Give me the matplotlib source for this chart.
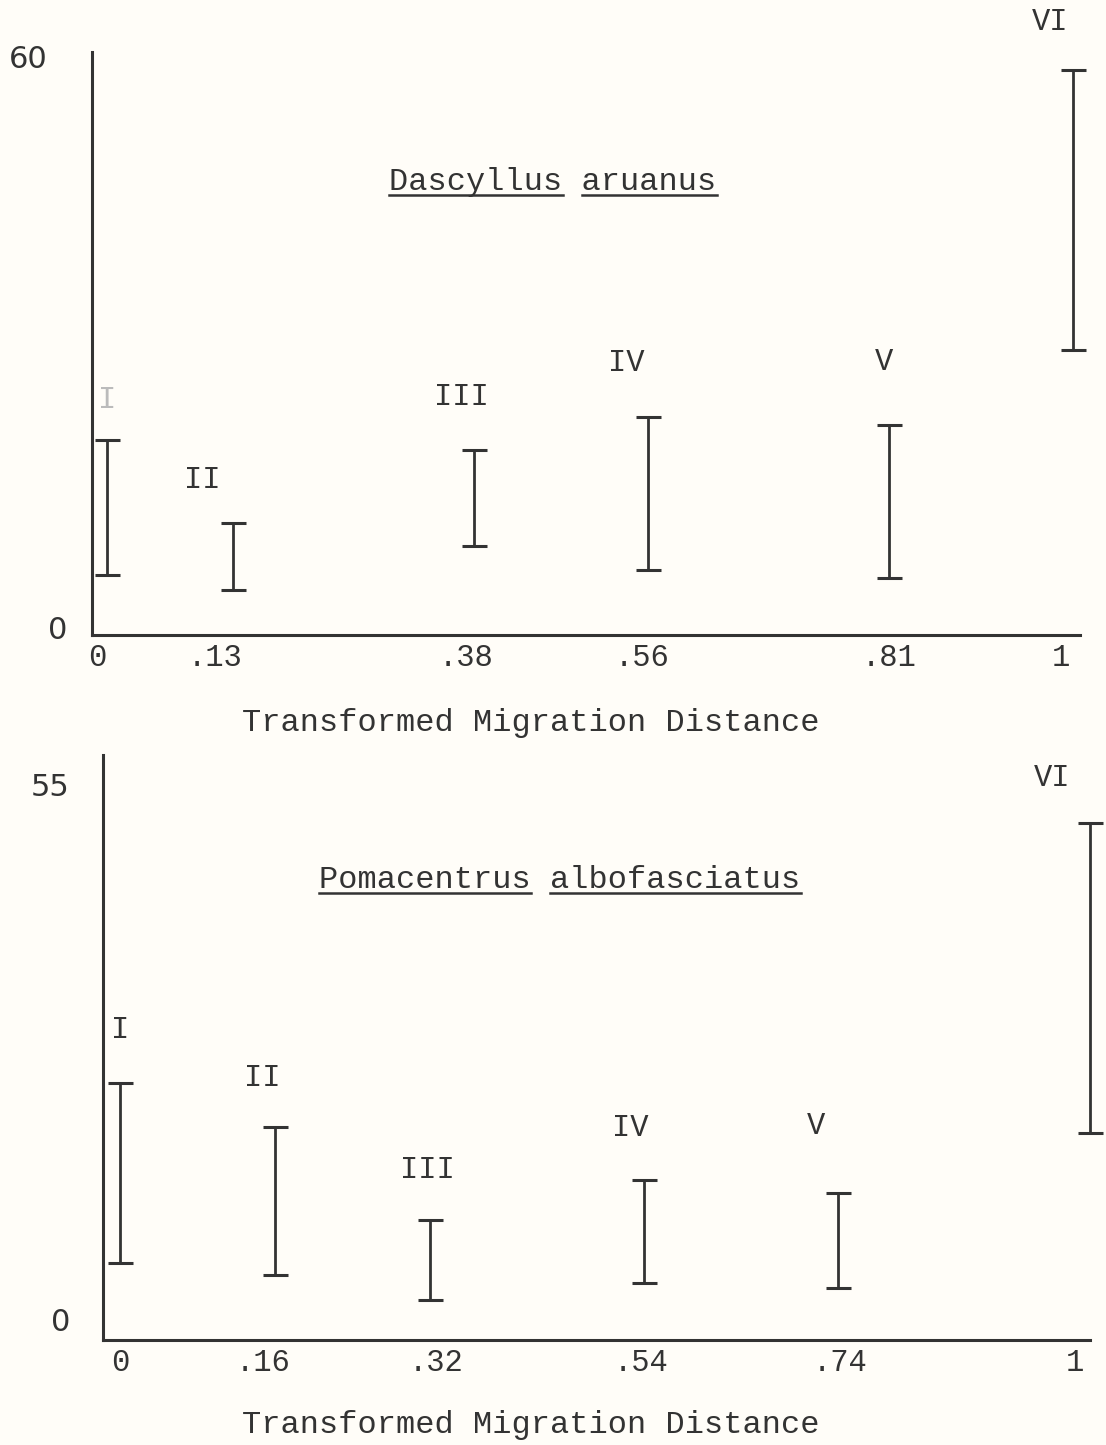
import matplotlib
matplotlib.use("Agg")
import matplotlib.pyplot as plt
import matplotlib.transforms as mtransforms
import numpy as np

# ---------------- data ----------------
groups = ["I", "II", "III", "IV", "V", "VI"]

top_x = [0.0, 0.13, 0.38, 0.56, 0.81, 1.0]
top_x_labels = ["0", ".13", ".38", ".56", ".81", "1"]
top_low = [5.8, 4.2, 8.9, 6.3, 5.5, 29.5]
top_high = [20.0, 11.3, 18.9, 22.4, 21.6, 58.9]
top_title = ["Dascyllus", "aruanus"]
top_ylabels = [0, 60]

bot_x = [0.0, 0.16, 0.32, 0.54, 0.74, 1.0]
bot_x_labels = ["0", ".16", ".32", ".54", ".74", "1"]
bot_low = [6.1, 4.8, 2.3, 4.0, 3.5, 19.4]
bot_high = [24.6, 20.0, 10.5, 14.6, 13.3, 51.3]
bot_title = ["Pomacentrus", "albofasciatus"]
bot_ylabels = [0, 55]

xlabel = "Transformed Migration Distance"

# ---------------- style ----------------
BG = "#fffdf8"
INK = "#333333"
MONO = "Liberation Mono"

fig = plt.figure(figsize=(11.06, 14.45), dpi=100, facecolor=BG)

def make_panel(rect, xs, xlabels, lo, hi, ylabels, ylim, xlim, title,
               title_xy, lab_xy, ylab_dx, xlabel_y, xlab_dx, faint_first=False):
    ax = fig.add_axes(rect)
    ax.set_facecolor(BG)
    ax.set_xlim(*xlim)
    ax.set_ylim(*ylim)
    for s in ["top", "right"]:
        ax.spines[s].set_visible(False)
    for s in ["left", "bottom"]:
        ax.spines[s].set_linewidth(2.2)
        ax.spines[s].set_color(INK)

    lo = np.array(lo); hi = np.array(hi)
    mid = (lo + hi) / 2
    err = (hi - lo) / 2
    ax.errorbar(xs, mid, yerr=err, fmt="none", ecolor=INK, elinewidth=2.0,
                capsize=9, capthick=2.2, clip_on=False)

    ax.set_xticks(xs)
    ax.set_xticklabels(xlabels, fontfamily=MONO, fontsize=22, color=INK)
    ax.tick_params(axis="x", length=0, pad=6)
    for lab, dx in zip(ax.get_xticklabels(), xlab_dx):
        lab.set_transform(lab.get_transform() +
                          mtransforms.ScaledTranslation(dx / 100, 0, fig.dpi_scale_trans))
    ax.set_yticks([])

    # y labels
    trans = mtransforms.blended_transform_factory(ax.transAxes, ax.transData)
    for (val, dx) in zip(ylabels, ylab_dx):
        off = mtransforms.offset_copy(trans, fig=fig, x=dx, y=0, units="dots")
        ax.text(0, val, str(val), transform=off, ha="center", va="center",
                fontsize=22, fontfamily="DejaVu Sans", color=INK)

    # group labels
    for i, (g, (lx, ly)) in enumerate(zip(groups, lab_xy)):
        c = "#bbbbbb" if (faint_first and i == 0) else INK
        ax.text(lx, ly, g, ha="center", va="center", fontfamily=MONO,
                fontsize=22, color=c, clip_on=False)

    # title with per-word underline
    full = " ".join(title)
    t = fig.text(title_xy[0], title_xy[1], full, ha="center", va="center",
                 fontfamily=MONO, fontsize=23, color=INK)
    fig.canvas.draw()
    r = fig.canvas.get_renderer()
    bb = t.get_window_extent(r)
    cw = bb.width / len(full)
    W, H = fig.bbox.width, fig.bbox.height
    pos = 0
    for w in title:
        x0 = bb.x0 + pos * cw
        x1 = x0 + len(w) * cw
        yl = bb.y0 + 2
        fig.add_artist(plt.Line2D([x0 / W, x1 / W], [yl / H, yl / H],
                                  transform=fig.transFigure, color=INK, lw=1.8))
        pos += len(w) + 1

    fig.text(0.48, xlabel_y, xlabel, ha="center", va="center",
             fontfamily=MONO, fontsize=23, color=INK)
    return ax

# top panel
make_panel([92 / 1106, 1 - 635 / 1445, (1080 - 92) / 1106, (635 - 52) / 1445],
           top_x, top_x_labels, top_low, top_high, top_ylabels,
           ylim=(-0.5, 60.8), xlim=(-0.0155, 1.0072), title=top_title,
           title_xy=(553 / 1106, 1 - 182 / 1445),
           lab_xy=[(0.0, 24.2), (0.099, 15.8), (0.367, 24.5), (0.538, 28.1),
                   (0.804, 28.2), (0.976, 64.0)],
           ylab_dx=[-34, -64], xlabel_y=1 - 723 / 1445,
           xlab_dx=[-10, -18, -8, -6, 0, -12], faint_first=True)

# bottom panel
make_panel([103 / 1106, 1 - 1340 / 1445, (1090 - 103) / 1106, (1340 - 755) / 1445],
           bot_x, bot_x_labels, bot_low, bot_high, bot_ylabels,
           ylim=(-1.85, 58.3), xlim=(-0.0175, 1.0), title=bot_title,
           title_xy=(560 / 1106, 1 - 880 / 1445),
           lab_xy=[(0.0, 30.0), (0.147, 25.1), (0.317, 15.6), (0.526, 19.9),
                   (0.717, 20.2), (0.961, 55.9)],
           ylab_dx=[-42, -53], xlabel_y=1 - 1425 / 1445,
           xlab_dx=[0, -12, 6, -3, 2, -15])

fig.savefig("out.png", dpi=100, facecolor=BG)
